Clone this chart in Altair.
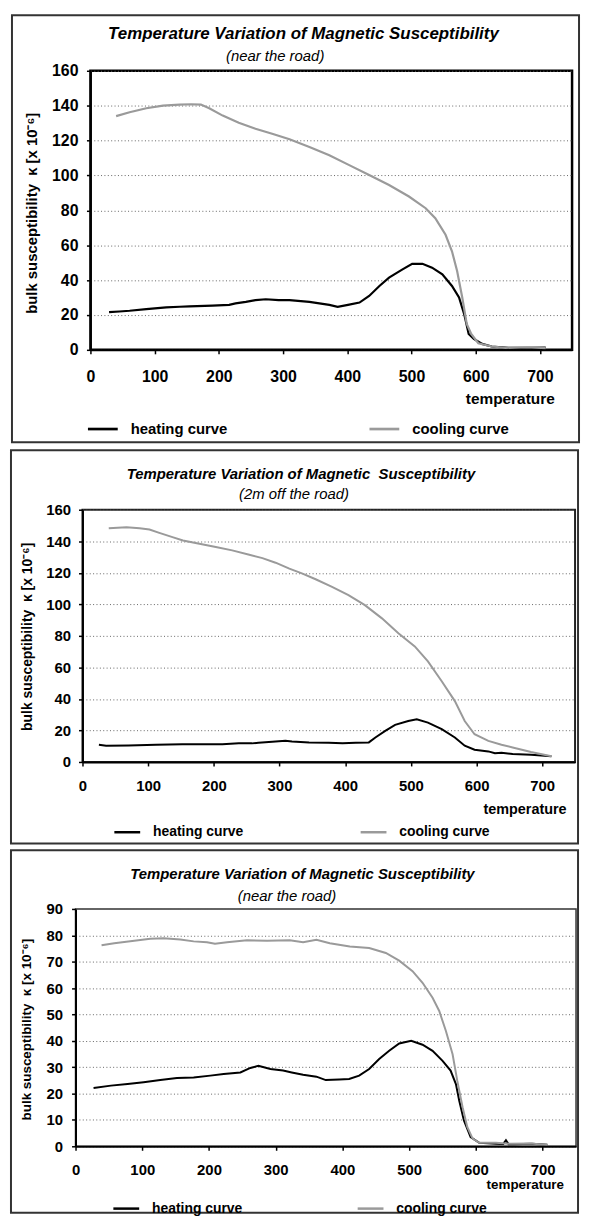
import altair as alt
import pandas as pd

# ---------------- data ----------------
CURVES = ["heating curve", "cooling curve"]

# Panel 1 (near the road)
T1_HEAT = [29, 45, 61, 87, 118, 139, 154, 190, 216, 226, 242, 257, 273, 293, 310, 341, 372, 385, 401, 419,
           434, 450, 465, 486, 501, 517, 532, 548, 563, 574, 582, 589, 597, 610, 625, 651, 680, 709]
K1_HEAT = [21.6, 22.0, 22.4, 23.3, 24.3, 24.7, 24.9, 25.4, 25.8, 26.6, 27.5, 28.5, 29.0, 28.5, 28.5, 27.5,
           25.8, 24.7, 25.8, 27.1, 30.9, 36.6, 41.4, 46.1, 49.3, 49.3, 47.1, 43.3, 36.6, 30.0, 20.5, 9.1,
           6.3, 3.4, 1.9, 1.1, 1.2, 1.3]
T1_COOL = [40, 61, 87, 113, 139, 157, 172, 185, 206, 231, 257, 283, 310, 341, 372, 403, 434, 465, 496, 522,
           537, 553, 563, 571, 579, 586, 593, 604, 625, 646, 680, 709]
K1_COOL = [134.0, 136.2, 138.5, 140.0, 140.6, 140.8, 140.6, 138.5, 134.3, 130.2, 126.8, 123.9, 120.7, 116.3,
           111.6, 105.9, 100.2, 94.5, 87.9, 81.2, 75.5, 66.0, 56.5, 45.2, 30.0, 14.8, 9.1, 3.8, 1.9, 1.1,
           1.5, 1.0]

# Panel 2 (2m off the road)
T2_HEAT = [25, 36, 70, 112, 152, 182, 213, 238, 258, 268, 289, 309, 319, 345, 375, 396, 416, 436, 446, 461,
           476, 496, 509, 526, 547, 567, 582, 597, 618, 628, 638, 655, 683, 714]
K2_HEAT = [10.9, 10.3, 10.4, 10.9, 11.3, 11.3, 11.3, 11.8, 11.8, 12.2, 12.8, 13.4, 13.0, 12.4, 12.2, 11.8,
           12.2, 12.4, 15.5, 19.7, 23.5, 26.0, 27.1, 25.0, 20.8, 15.5, 10.3, 7.8, 6.7, 5.5, 5.9, 5.0, 4.6, 3.6]
T2_COOL = [40, 67, 87, 102, 117, 137, 153, 178, 203, 228, 254, 274, 294, 315, 335, 355, 380, 405, 430, 456,
           481, 506, 526, 547, 567, 582, 597, 618, 638, 655, 683, 714]
K2_COOL = [148.2, 148.9, 148.2, 147.4, 145.3, 142.6, 140.5, 138.4, 136.3, 134.2, 131.4, 129.3, 126.4, 122.6,
           119.5, 115.9, 111.1, 105.8, 99.5, 91.1, 81.7, 73.3, 63.8, 51.2, 38.6, 26.0, 17.6, 13.4, 10.9,
           9.2, 6.3, 3.6]

# Panel 3 (near the road)
T3_HEAT = [27, 53, 78, 102, 127, 152, 177, 202, 222, 247, 262, 274, 292, 311, 324, 341, 361, 375, 395, 410,
           425, 440, 455, 470, 485, 503, 520, 535, 550, 562, 570, 575, 582, 592, 605, 630, 641, 645, 649,
           657, 684, 707]
K3_HEAT = [22.1, 23.0, 23.6, 24.3, 25.1, 25.9, 26.1, 26.8, 27.4, 28.0, 29.7, 30.5, 29.3, 28.7, 28.0, 27.1,
           26.4, 25.1, 25.3, 25.5, 26.8, 29.3, 33.1, 36.2, 39.0, 40.0, 38.5, 36.2, 32.4, 28.7, 23.6, 17.3,
           9.8, 3.5, 1.3, 1.0, 0.9, 2.3, 0.8, 0.8, 1.0, 0.6]
T3_COOL = [39, 58, 88, 112, 132, 157, 177, 197, 209, 227, 257, 287, 321, 341, 361, 381, 411, 440, 465, 485,
           505, 520, 535, 545, 555, 565, 572, 580, 587, 595, 605, 630, 649, 680, 707]
K3_COOL = [76.2, 77.0, 77.9, 78.7, 78.9, 78.4, 77.7, 77.4, 76.8, 77.4, 78.1, 77.9, 78.1, 77.4, 78.3, 77.0,
           75.8, 75.2, 73.3, 70.4, 66.4, 62.0, 56.3, 51.3, 43.7, 34.9, 24.9, 14.8, 7.3, 2.9, 1.3, 1.3, 1.0,
           1.1, 0.6]

TITLE = "Temperature Variation of Magnetic Susceptibility"
TITLE2 = "Temperature Variation of Magnetic \u00a0Susceptibility"
SUB1 = "(near the road)"
SUB2 = "(2m off the road)"
Y_TITLE = "bulk susceptibility \u00a0\u03ba [x 10\u207b\u2076]"
X_TITLE = "temperature"
X_TICKS = [0, 100, 200, 300, 400, 500, 600, 700]

# ---------------- styling / layout ----------------
FONT = "Liberation Sans"
COLORS = ["#000000", "#9a9a9a"]


def make_panel(th, kh, tc, kc, ymax, ystep, title, subtitle, L):
    df = pd.DataFrame(
        [{"temperature": t, "kappa": k, "curve": CURVES[0]} for t, k in zip(th, kh)]
        + [{"temperature": t, "kappa": k, "curve": CURVES[1]} for t, k in zip(tc, kc)]
    )
    one = alt.Data(values=[{}])
    yticks = list(range(0, ymax + 1, ystep))

    lines = alt.Chart(df).mark_line(strokeWidth=L["lw"], clip=True).encode(
        x=alt.X("temperature:Q",
                scale=alt.Scale(domain=[0, 750], nice=False, zero=False),
                axis=alt.Axis(values=X_TICKS, format="d", title=X_TITLE, grid=False,
                              labelFont=FONT, labelFontSize=L["tick_fs"], labelFontWeight="bold",
                              labelColor="black", labelPadding=L["xlp"], labelFlush=False,
                              tickSize=4, tickColor="black", tickWidth=1.5,
                              domainColor="black", domainWidth=L["dw"],
                              titleFont=FONT, titleFontSize=L["xt_fs"], titleFontWeight="bold",
                              titleColor="black", titleX=L["xt_x"], titleY=L["xt_y"],
                              titleAlign="right", titleBaseline="middle", titleAngle=0)),
        y=alt.Y("kappa:Q",
                scale=alt.Scale(domain=[0, ymax], nice=False),
                axis=alt.Axis(values=yticks, format="d", title=Y_TITLE,
                              grid=True, gridColor="#666666", gridDash=[1, 2.4], gridWidth=1,
                              labelFont=FONT, labelFontSize=L["tick_fs"], labelFontWeight="bold",
                              labelColor="black", labelPadding=L["ylp"],
                              tickSize=4, tickColor="black", tickWidth=1.5,
                              domainColor="black", domainWidth=L["dw"],
                              titleFont=FONT, titleFontSize=L["yt_fs"], titleFontWeight="bold",
                              titleColor="black", titleX=L["yt_x"], titleY=L["yt_y"],
                              titleAngle=270, titleAlign="center", titleBaseline="middle")),
        color=alt.Color("curve:N",
                        scale=alt.Scale(domain=CURVES, range=COLORS),
                        legend=alt.Legend(title=None, orient="none", direction="horizontal",
                                          legendX=L["lg_x"], legendY=L["lg_y"], padding=0,
                                          symbolType="stroke", symbolSize=L["sym"],
                                          symbolStrokeWidth=L["lw"] + 0.5,
                                          labelFont=FONT, labelFontSize=L["lg_fs"],
                                          labelFontWeight="bold", labelColor="black",
                                          labelOffset=L["lg_off"], columnPadding=L["lg_col"])),
    )

    frame = alt.Chart(one).mark_rect(filled=False, stroke="#333333", strokeWidth=2).encode(
        x=alt.value(L["bx"][0]), x2=alt.value(L["bx"][1]),
        y=alt.value(L["by"][0]), y2=alt.value(L["by"][1]),
    )
    t_main = alt.Chart(one).mark_text(
        text=title, font=FONT, fontSize=L["t_fs"], fontWeight="bold", fontStyle="italic",
        align="center", baseline="middle", color="black",
    ).encode(x=alt.value(L["t_x"]), y=alt.value(L["t_y"]))
    t_sub = alt.Chart(one).mark_text(
        text=subtitle, font=FONT, fontSize=L["s_fs"], fontStyle="italic",
        align="center", baseline="middle", color="black",
    ).encode(x=alt.value(L["s_x"]), y=alt.value(L["s_y"]))

    panel = alt.layer(frame, lines, t_main, t_sub).properties(
        width=L["w"], height=L["h"],
        view=alt.ViewBackground(stroke=L["fc"], strokeWidth=L["fw"]),
    )
    # a 1px invisible spacer so that each panel's outer frame (not its plot area)
    # sets its horizontal position
    spacer = alt.Chart(one).mark_rect(opacity=0).encode(
        x=alt.value(0), x2=alt.value(1), y=alt.value(0), y2=alt.value(1)
    ).properties(width=1, height=1, view=alt.ViewBackground(strokeWidth=0))
    return alt.hconcat(spacer, panel, spacing=0)


L1 = dict(w=485, h=281, lw=2.2, dw=2, fc="black", fw=2.5,
          tick_fs=16, xlp=15, ylp=8.5,
          xt_fs=15.5, xt_x=467, xt_y=49, yt_fs=15, yt_x=-59, yt_y=143,
          lg_x=79, lg_y=344, sym=900, lg_fs=15, lg_off=11.5, lg_col=136.5,
          bx=(-79, 492), by=(-56, 374),
          t_fs=17, t_x=214.5, t_y=-36.7, s_fs=15, s_x=186, s_y=-15)
L2 = dict(w=496, h=254, lw=2, dw=2, fc="#222222", fw=2,
          tick_fs=15, xlp=13, ylp=8,
          xt_fs=14.5, xt_x=487, xt_y=48, yt_fs=14, yt_x=-55.7, yt_y=127.5,
          lg_x=105.6, lg_y=310, sym=676, lg_fs=14, lg_off=11.4, lg_col=112,
          bx=(-72, 499), by=(-60, 336),
          t_fs=15, t_x=220, t_y=-35.7, s_fs=15, s_x=213, s_y=-15.7)
L3 = dict(w=504, h=239, lw=2, dw=2, fc="#333333", fw=1.5,
          tick_fs=15, xlp=12, ylp=9,
          xt_fs=13.5, xt_x=491.4, xt_y=39, yt_fs=13.5, yt_x=-49.4, yt_y=121,
          lg_x=104.6, lg_y=287, sym=676, lg_fs=14, lg_off=11.4, lg_col=110,
          bx=(-65, 506), by=(-59, 306),
          t_fs=15, t_x=228.5, t_y=-34.7, s_fs=15, s_x=213, s_y=-13.3)

p1 = make_panel(T1_HEAT, K1_HEAT, T1_COOL, K1_COOL, 160, 20, TITLE, SUB1, L1)
p2 = make_panel(T2_HEAT, K2_HEAT, T2_COOL, K2_COOL, 160, 20, TITLE2, SUB2, L2)
p3 = make_panel(T3_HEAT, K3_HEAT, T3_COOL, K3_COOL, 90, 10, TITLE, SUB1, L3)

chart = alt.vconcat(p1, p2, p3, spacing=3).resolve_scale(
    x="independent", y="independent", color="independent"
).resolve_legend(color="independent").properties(padding=0, background="white")

chart.save("out.html", embed_options={"renderer": "svg", "actions": False})
